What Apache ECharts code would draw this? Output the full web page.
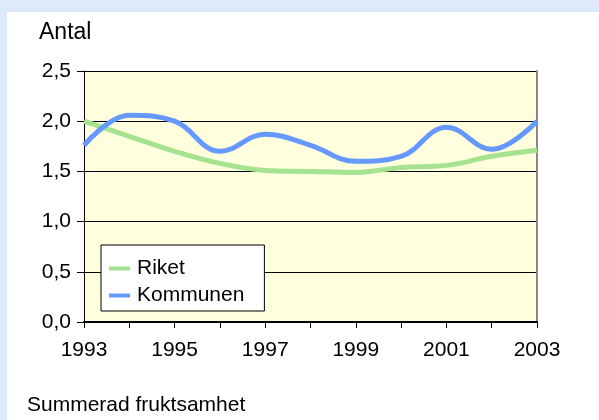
<!DOCTYPE html>
<html>
<head>
<meta charset="utf-8">
<script src="https://cdn.jsdelivr.net/npm/echarts@6/dist/echarts.min.js"></script>
<style>
  html, body { margin: 0; padding: 0; background: #dceafc; }
  #panel { position: absolute; left: 7px; top: 12px; width: 592px; height: 408px; background: #ffffff; }
  #chart { width: 592px; height: 408px; }
</style>
</head>
<body>
<div id="panel"><div id="chart"></div></div>
<script>
// år
const years = ['1993', '1994', '1995', '1996', '1997', '1998', '1999', '2000', '2001', '2002', '2003'];
// summerad fruktsamhet
const riket = [2.00, 1.85, 1.70, 1.58, 1.51, 1.50, 1.49, 1.54, 1.56, 1.65, 1.71];
const kommunen = [1.76, 2.06, 2.00, 1.70, 1.87, 1.76, 1.60, 1.65, 1.94, 1.72, 2.00];

const font = 'Liberation Sans, Arial, sans-serif';

let chart = echarts.init(document.getElementById('chart'));
let option = {
  animation: false,
  textStyle: { fontFamily: font },
  graphic: [
    { type: 'text', left: 32, top: 9, style: { text: 'Antal', fontSize: 23, fontFamily: font, fill: '#000' } },
    { type: 'text', left: 20, top: 383, style: { text: 'Summerad fruktsamhet', fontSize: 21, fontFamily: font, fill: '#000' } }
  ],
  grid: {
    left: 77, right: 62, top: 59, bottom: 98,
    show: true, backgroundColor: '#ffffdd', borderWidth: 0
  },
  legend: {
    orient: 'vertical',
    left: 94, top: 233,
    backgroundColor: '#fff',
    borderColor: '#000', borderWidth: 1,
    padding: [13, 20, 5, 8],
    itemWidth: 21, itemHeight: 4, itemGap: 6,
    icon: 'rect',
    textStyle: { fontSize: 21, color: '#000', fontFamily: font, padding: [0, 0, 0, 2] },
    data: ['Riket', 'Kommunen']
  },
  xAxis: {
    type: 'category',
    data: years,
    boundaryGap: false,
    axisLine: { lineStyle: { color: '#000', width: 2 } },
    axisTick: { interval: 0, length: 6, lineStyle: { color: '#000' } },
    axisLabel: { interval: 1, fontSize: 21, color: '#000', margin: 18 },
    splitLine: { show: false }
  },
  yAxis: [
    {
      type: 'value',
      min: 0, max: 2.5, interval: 0.5,
      axisLine: { show: true, lineStyle: { color: '#000', width: 1 } },
      axisTick: { show: true, length: 7, lineStyle: { color: '#000' } },
      axisLabel: {
        fontSize: 21, color: '#000', margin: 13,
        formatter: v => v.toFixed(1).replace('.', ',')
      },
      splitLine: { lineStyle: { color: '#000', width: 1 } }
    },
    {
      type: 'value', position: 'right',
      min: 0, max: 2.5, interval: 0.5,
      axisLine: { show: true, lineStyle: { color: '#888', width: 2 } },
      axisTick: { show: false },
      axisLabel: { show: false },
      splitLine: { show: false }
    }
  ],
  series: [
    {
      name: 'Riket', type: 'line', data: riket,
      smooth: 0.4, showSymbol: false, symbol: 'none',
      color: '#a6e391',
      lineStyle: { width: 5, color: '#a6e391' }
    },
    {
      name: 'Kommunen', type: 'line', data: kommunen,
      smooth: 0.4, showSymbol: false, symbol: 'none',
      color: '#6699ff',
      lineStyle: { width: 5, color: '#6699ff' }
    }
  ]
};
chart.setOption(option);
</script>
</body>
</html>
